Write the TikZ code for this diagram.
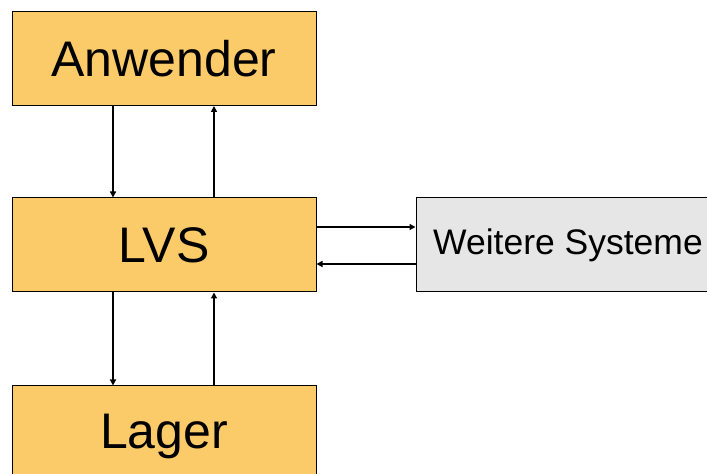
\documentclass[tikz,border=0pt]{standalone}
\usepackage{fontspec}
\setmainfont{Liberation Sans}
\usetikzlibrary{arrows.meta}
\definecolor{boxorange}{HTML}{FCCB69}
\definecolor{boxgray}{HTML}{E6E6E6}
\tikzset{
  obox/.style={draw=black, line width=1pt, fill=boxorange, minimum width=304pt, minimum height=94pt, inner sep=0pt, font=\fontsize{50}{50}\selectfont},
  gbox/.style={draw=black, line width=1pt, fill=boxgray, minimum width=304pt, minimum height=94pt, inner sep=0pt, font=\fontsize{35.5}{35.5}\selectfont},
  conn/.style={draw=black, line width=1.3pt, -{Triangle[length=6pt,width=6pt]}}
}
\begin{document}
\begin{tikzpicture}[x=1pt,y=1pt]
\useasboundingbox (0,0) rectangle (707,474);
\clip (0,0) rectangle (707,474);
\fill[white] (0,0) rectangle (707,474);
\node[obox] (anw) at (164,415.5) {Anwender};
\node[obox] (lvs) at (164,229) {LVS};
\node[obox, minimum height=100pt] (lag) at (164,38) {Lager};
\node[gbox] (ws) at (568,229) {Weitere Systeme};
\draw[conn] ([xshift=-51pt]anw.south) -- ([xshift=-51pt]lvs.north);
\draw[conn] ([xshift=50pt]lvs.north) -- ([xshift=50pt]anw.south);
\draw[conn] ([xshift=-51pt]lvs.south) -- ([xshift=-51pt]lag.north);
\draw[conn] ([xshift=50pt]lag.north) -- ([xshift=50pt]lvs.south);
\draw[conn] ([yshift=18pt]lvs.east) -- ([yshift=18pt]ws.west);
\draw[conn] ([yshift=-19pt]ws.west) -- ([yshift=-19pt]lvs.east);
\end{tikzpicture}
\end{document}
